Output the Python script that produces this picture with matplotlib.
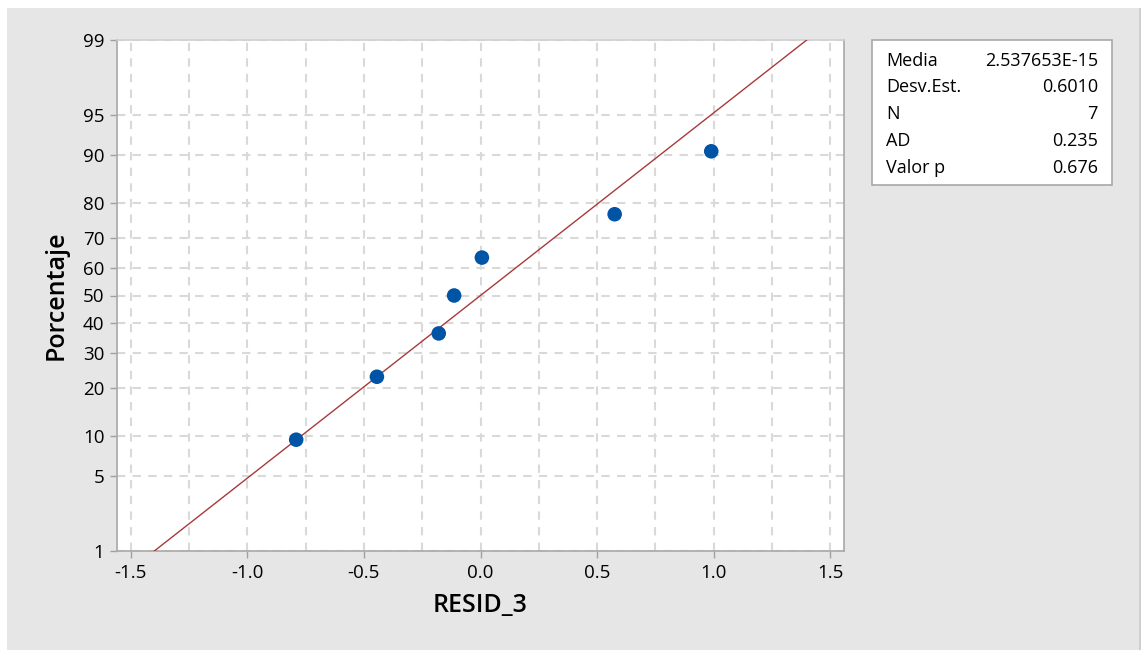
import matplotlib
matplotlib.use("Agg")
import matplotlib.pyplot as plt
from matplotlib.patches import Rectangle
from statistics import NormalDist
import numpy as np

# ---- data ----
resid = [-0.790, -0.444, -0.179, -0.113, 0.006, 0.575, 0.989]
percent = [9.46, 22.97, 36.49, 50.0, 63.51, 77.03, 90.54]
fit_mean = 0.0
fit_sd = 0.6010
ytick_pct = [1, 5, 10, 20, 30, 40, 50, 60, 70, 80, 90, 95, 99]
xticks = [-1.5, -1.0, -0.5, 0.0, 0.5, 1.0, 1.5]
xminor = [-1.25, -0.75, -0.25, 0.25, 0.75, 1.25]
stats_labels = ["Media", "Desv.Est.", "N", "AD", "Valor p"]
stats_values = ["2.537653E-15", "0.6010", "7", "0.235", "0.676"]

nd = NormalDist()
z = lambda p: nd.inv_cdf(p / 100.0)

plt.rcParams['font.family'] = ['Open Sans', 'DejaVu Sans']

W, H = 1141, 650
fig = plt.figure(figsize=(W / 100, H / 100), dpi=100, facecolor='white')
# gray panel
fig.patches.append(Rectangle((7 / W, 0), (1139 - 7) / W, (H - 8) / H,
                             transform=fig.transFigure, facecolor='#e6e6e6',
                             edgecolor='none', zorder=-10))
fig.patches.append(Rectangle((1139 / W, 0), 1.5 / W, (H - 8) / H,
                             transform=fig.transFigure, facecolor='#cfcfcf',
                             edgecolor='none', zorder=-10))

ax = fig.add_axes([117 / W, 1 - 551 / H, (844 - 117) / W, (551 - 40) / H])
ax.set_zorder(1)
ax.set_facecolor('white')

ax.set_xlim(-1.558, 1.558)
ax.set_ylim(z(1), z(99))

# grid
gridkw = dict(color='#d9d9d9', linewidth=1.5, linestyle=(0, (4, 3.5)), zorder=1)
for xv in xticks + xminor:
    ax.axvline(xv, **gridkw)
for p in ytick_pct:
    ax.axhline(z(p), **gridkw)

# fitted line
zz = np.array([z(1), z(99)])
ax.plot(fit_mean + fit_sd * zz, zz, color='#a83a3a', linewidth=1.0, zorder=3)

# points
ax.scatter(resid, [z(p) for p in percent], s=110, color='#0054a6',
           edgecolors='none', zorder=4)

ax.set_xticks(xticks)
ax.set_xticklabels([f"{v:.1f}" for v in xticks])
ax.set_yticks([z(p) for p in ytick_pct])
ax.set_yticklabels([str(p) for p in ytick_pct])
ax.tick_params(axis='both', direction='out', length=5, width=1,
               color='#a0a0a0', labelsize=13.5, labelcolor='black', pad=4)

for s in ax.spines.values():
    s.set_color('#a8a8a8')
    s.set_linewidth(1.2)
ax.spines['top'].set_color('#d0d0d0')

ax.set_xlabel("RESID_3", fontsize=18, fontweight='semibold', labelpad=8)
ax.set_ylabel("Porcentaje", fontsize=18, fontweight='semibold', labelpad=10)

# stats box
bx0, by0, bx1, by1 = 872, 40, 1112, 185
fig.patches.append(Rectangle((bx0 / W, 1 - by1 / H), (bx1 - bx0) / W, (by1 - by0) / H,
                             transform=fig.transFigure, facecolor='white',
                             edgecolor='#a8a8a8', linewidth=1.2, zorder=2))
rows_y = [61, 87, 114, 141, 168]
for lab, val, yy in zip(stats_labels, stats_values, rows_y):
    fig.text(886 / W, 1 - yy / H, lab, ha='left', va='center', fontsize=13, zorder=3)
    fig.text(1098 / W, 1 - yy / H, val, ha='right', va='center', fontsize=13, zorder=3)

fig.savefig("out.png", dpi=100, facecolor=fig.get_facecolor())
